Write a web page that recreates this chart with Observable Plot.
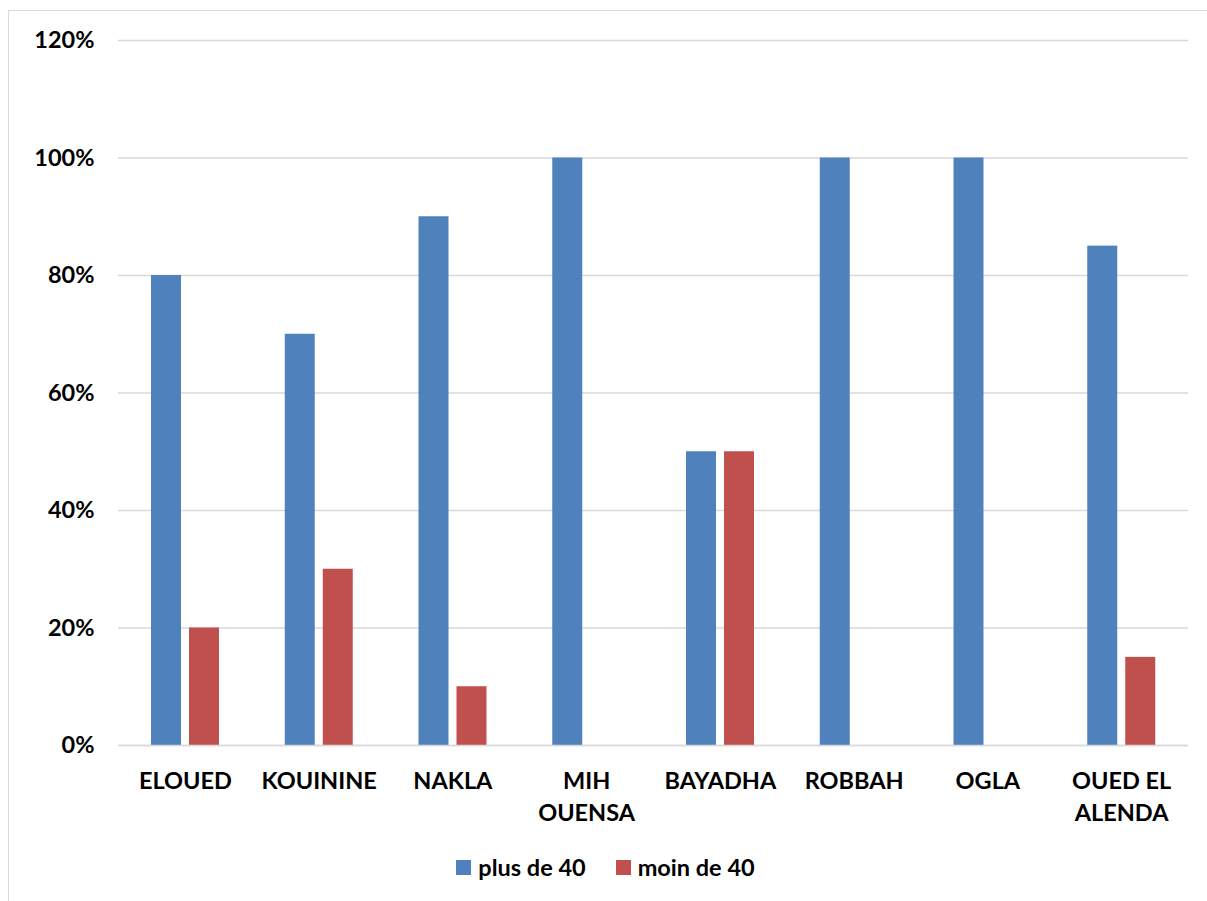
<!DOCTYPE html>
<html>
<head>
<meta charset="utf-8">
<script src="https://cdn.jsdelivr.net/npm/d3@7"></script>
<script src="https://cdn.jsdelivr.net/npm/@observablehq/plot@0.6"></script>
<style>
  html, body { margin: 0; padding: 0; background: #fff; }
  #wrap { position: relative; width: 1207px; height: 901px; overflow: hidden; font-family: Lato, "Liberation Sans", sans-serif; font-weight: bold; }
  #frame { position: absolute; left: 8px; top: 10px; width: 1205px; height: 900px; border: 1px solid #d9d9d9; box-sizing: border-box; }
  #chart { position: absolute; left: 0; top: 0; }
  #legend { position: absolute; left: 2px; top: 853px; width: 1207px; display: flex; justify-content: center; font-size: 23.5px; color: #000; }
  .item { display: flex; align-items: center; margin: 0 15px; }
  .sw { width: 15px; height: 15px; margin-right: 7px; }
</style>
</head>
<body>
<div id="wrap">
  <div id="frame"></div>
  <div id="chart"></div>
  <div id="legend"></div>
</div>
<script>
const categories = ["ELOUED", "KOUININE", "NAKLA", "MIH\nOUENSA", "BAYADHA", "ROBBAH", "OGLA", "OUED EL\nALENDA"];
const seriesNames = ["plus de 40", "moin de 40"];
const plusValues = [0.80, 0.70, 0.90, 1.00, 0.50, 1.00, 1.00, 0.85];
const moinValues = [0.20, 0.30, 0.10, 0.00, 0.50, 0.00, 0.00, 0.15];
const yTicks = [0, 0.2, 0.4, 0.6, 0.8, 1.0, 1.2];
const colors = ["#4f81bd", "#c0504d"];

const plusData = categories.map((c, i) => ({category: c, value: plusValues[i]}));
const moinData = categories.map((c, i) => ({category: c, value: moinValues[i]}));

const font = "Lato, 'Liberation Sans', sans-serif";

const chart = Plot.plot({
  width: 1207,
  height: 845,
  marginLeft: 118,
  marginRight: 19,
  marginTop: 40,
  marginBottom: 100,
  style: {fontFamily: font, fontWeight: "bold", fontSize: "23px", color: "#000", background: "transparent"},
  x: {domain: categories, padding: 0, round: false},
  y: {domain: [0, 1.2]},
  marks: [
    Plot.gridY(yTicks, {stroke: "#d9d9d9", strokeOpacity: 1, strokeWidth: 1.5}),
    Plot.barY(plusData, {x: "category", y: "value", fill: colors[0], insetLeft: 33, insetRight: 70.75}),
    Plot.barY(moinData, {x: "category", y: "value", fill: colors[1], insetLeft: 71, insetRight: 32.75}),
    Plot.ruleY([0], {stroke: "#d9d9d9", strokeWidth: 1.5}),
    Plot.axisY({ticks: yTicks, tickFormat: d => Math.round(d * 100) + "%", tickSize: 0, tickPadding: 24, label: null, fontSize: 23.5, fill: "#000"}),
    Plot.axisX({tickSize: 0, tickPadding: 20, label: null, fontSize: 23.5, fill: "#000", lineHeight: 1.38})
  ]
});
document.getElementById("chart").appendChild(chart);

const legend = document.getElementById("legend");
seriesNames.forEach((name, i) => {
  const item = document.createElement("div");
  item.className = "item";
  const sw = document.createElement("div");
  sw.className = "sw";
  sw.style.background = colors[i];
  const label = document.createElement("span");
  label.textContent = name;
  item.appendChild(sw);
  item.appendChild(label);
  legend.appendChild(item);
});
</script>
</body>
</html>
